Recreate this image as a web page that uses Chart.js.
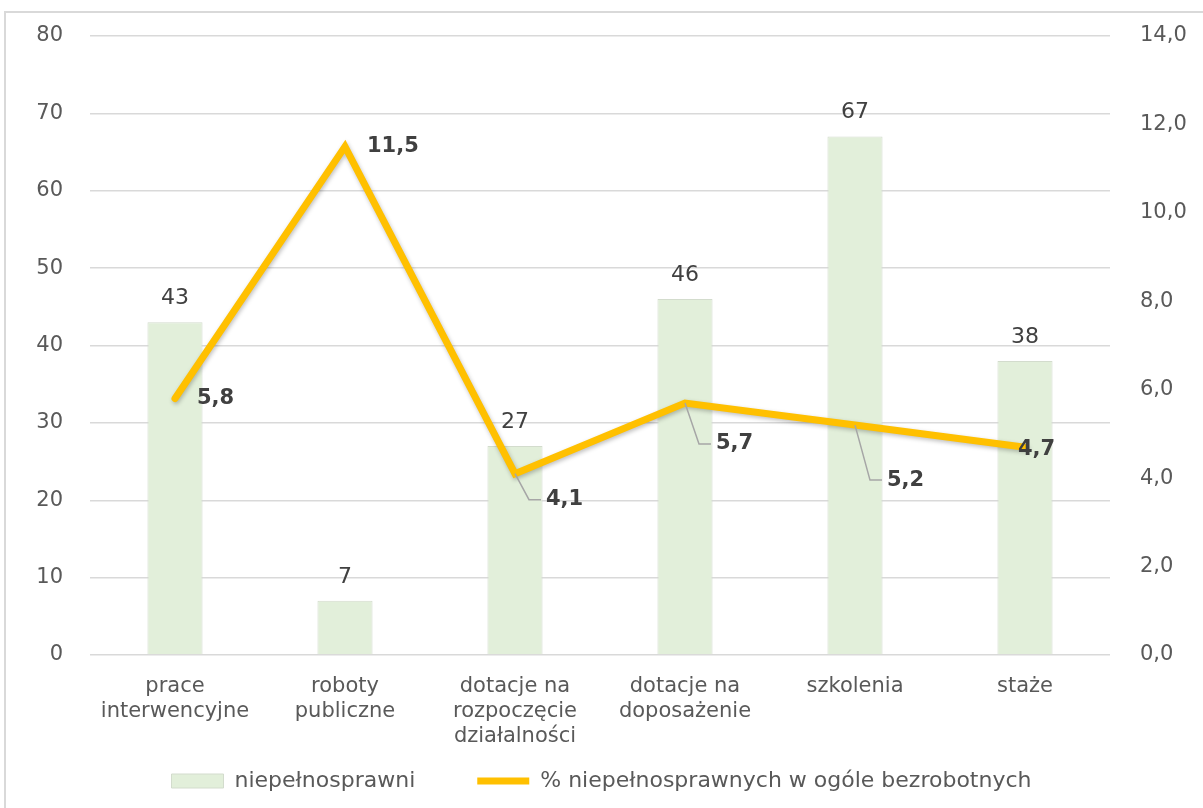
<!DOCTYPE html>
<html>
<head>
<meta charset="utf-8">
<script src="https://cdn.jsdelivr.net/npm/chart.js@4.4.1/dist/chart.umd.min.js"></script>
<style>
  html, body { margin: 0; padding: 0; background: #ffffff; }
  #wrap { position: relative; width: 1203px; height: 808px; overflow: hidden; }
  #frame { position: absolute; left: 4px; top: 11px; width: 1210px; height: 820px; border: 2px solid #d9d9d9; box-sizing: border-box; }
  canvas { position: absolute; left: 0; top: 0; }
</style>
</head>
<body>
<div id="wrap">
  <div id="frame"></div>
  <canvas id="c" width="1203" height="808"></canvas>
</div>
<script>
// ---- data ----
const categories = [
  ['prace', 'interwencyjne'],
  ['roboty', 'publiczne'],
  ['dotacje na', 'rozpoczęcie', 'działalności'],
  ['dotacje na', 'doposażenie'],
  ['szkolenia'],
  ['staże']
];
const disabledCounts = [43, 7, 27, 46, 67, 38];
const disabledShare = [5.8, 11.5, 4.1, 5.7, 5.2, 4.7];
const seriesNames = ['niepełnosprawni', '% niepełnosprawnych w ogóle bezrobotnych'];
const leftTicks = { min: 0, max: 80, step: 10 };
const rightTicks = { min: 0, max: 14, step: 2 };

// label placement for the line values (offset from point, in px) and whether a leader line is drawn
const lineLabelPlacement = [
  { dx: 22, dy: 0, leader: false },
  { dx: 22, dy: 0, leader: false },
  { dx: 31, dy: 26, leader: true },
  { dx: 31, dy: 41, leader: true },
  { dx: 32, dy: 55, leader: true },
  { dx: -7, dy: 2, leader: false }
];

const FONT = "'DejaVu Sans', Verdana, sans-serif";
const TEXT = '#595959';

const valueLabels = {
  id: 'valueLabels',
  afterDatasetsDraw(chart) {
    const ctx = chart.ctx;
    ctx.save();
    // bar labels
    const barMeta = chart.getDatasetMeta(0);
    ctx.font = "22px " + FONT;
    ctx.fillStyle = '#404040';
    ctx.textAlign = 'center';
    ctx.textBaseline = 'middle';
    barMeta.data.forEach((el, i) => {
      ctx.fillText(String(disabledCounts[i]), el.x, el.y - 24);
    });
    // line labels
    const lineMeta = chart.getDatasetMeta(1);
    ctx.font = "bold 21px " + FONT;
    ctx.textAlign = 'left';
    lineMeta.data.forEach((el, i) => {
      const p = lineLabelPlacement[i];
      const tx = el.x + p.dx, ty = el.y + p.dy;
      if (p.leader) {
        ctx.strokeStyle = '#a6a6a6';
        ctx.lineWidth = 1.5;
        ctx.beginPath();
        ctx.moveTo(el.x, el.y);
        ctx.lineTo(el.x + p.dx - 17, ty);
        ctx.lineTo(tx - 5, ty);
        ctx.stroke();
      }
      ctx.fillStyle = '#404040';
      ctx.fillText(disabledShare[i].toFixed(1).replace('.', ','), tx, ty);
    });
    ctx.restore();
  }
};

const lineShadow = {
  id: 'lineShadow',
  beforeDatasetDraw(chart, args) {
    if (args.index === 1) {
      const ctx = chart.ctx;
      ctx.save();
      ctx.shadowColor = 'rgba(0,0,0,0.25)';
      ctx.shadowBlur = 4;
      ctx.shadowOffsetX = 1;
      ctx.shadowOffsetY = 2;
    }
  },
  afterDatasetDraw(chart, args) {
    if (args.index === 1) chart.ctx.restore();
  }
};

function fixVertical(width) {
  return function (scale) {
    scale.width = width;
    scale.paddingTop = 0;
    scale.paddingBottom = 0;
  };
}

new Chart(document.getElementById('c'), {
  data: {
    labels: categories,
    datasets: [
      {
        type: 'bar',
        label: seriesNames[0],
        data: disabledCounts,
        yAxisID: 'y',
        backgroundColor: '#e2efda',
        borderColor: '#d3dccd',
        borderWidth: 1,
        barPercentage: 0.324,
        categoryPercentage: 1,
        pointStyle: 'rect',
        order: 2
      },
      {
        type: 'line',
        label: seriesNames[1],
        data: disabledShare,
        yAxisID: 'y1',
        borderColor: '#ffc000',
        backgroundColor: '#ffc000',
        borderWidth: 7,
        borderCapStyle: 'round',
        borderJoinStyle: 'miter',
        pointRadius: 0,
        pointHoverRadius: 0,
        tension: 0,
        pointStyle: 'line',
        order: 1
      }
    ]
  },
  options: {
    responsive: false,
    animation: false,
    devicePixelRatio: 1,
    layout: { padding: { top: 36, left: 0, right: 0, bottom: 6 } },
    plugins: {
      legend: {
        position: 'bottom',
        labels: {
          usePointStyle: true,
          pointStyleWidth: 52,
          boxHeight: 14,
          padding: 62,
          color: TEXT,
          font: { family: FONT, size: 22 },
          sort: (a, b) => a.datasetIndex - b.datasetIndex
        }
      },
      tooltip: { enabled: false }
    },
    scales: {
      x: {
        grid: { display: false },
        border: { display: false },
        ticks: {
          color: TEXT,
          font: { family: FONT, size: 21, lineHeight: 1.2 },
          padding: 11,
          maxRotation: 0,
          autoSkip: false
        },
        afterFit(scale) {
          scale.height = 53;
          // let the three-line category labels extend below the axis box
          scale._computeLabelArea = () => undefined;
        }
      },
      y: {
        position: 'left',
        min: leftTicks.min,
        max: leftTicks.max,
        ticks: {
          stepSize: leftTicks.step,
          color: TEXT,
          font: { family: FONT, size: 21 },
          padding: 27
        },
        grid: { color: '#d9d9d9', lineWidth: 1.5, drawTicks: false },
        border: { display: false },
        afterFit: fixVertical(90)
      },
      y1: {
        position: 'right',
        min: rightTicks.min,
        max: rightTicks.max,
        ticks: {
          stepSize: rightTicks.step,
          color: TEXT,
          font: { family: FONT, size: 21 },
          padding: 30,
          callback: v => v.toFixed(1).replace('.', ',')
        },
        grid: { display: false, drawTicks: false },
        border: { display: false },
        afterFit: fixVertical(93)
      }
    }
  },
  plugins: [lineShadow, valueLabels]
});
</script>
</body>
</html>
